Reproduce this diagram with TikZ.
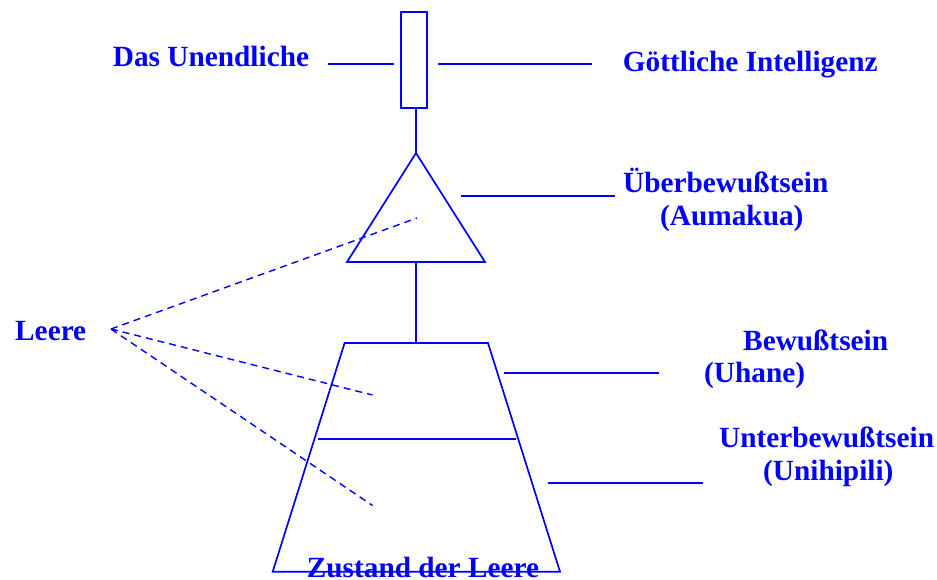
\documentclass[tikz,border=0pt]{standalone}
\usepackage{fontspec}
\setmainfont{Liberation Serif}
\begin{document}
\begin{tikzpicture}[x=1pt,y=-1pt,
  lab/.style={inner sep=0pt,anchor=base west,text=blue,font=\fontsize{29.3}{34}\selectfont\bfseries},
  ln/.style={draw=blue,line width=1.7pt},
  dsh/.style={draw=blue,line width=1.4pt,dash pattern=on 7pt off 5pt}]
\useasboundingbox (0,0) rectangle (937,579);
% texts
\node[lab] (unend) at (112.7,66.7) {Das Unendliche};
\node[lab] (goett) at (622.7,71.7) {Göttliche Intelligenz};
\node[lab] (ueber) at (623,192.7) {Überbewußtsein};
\node[lab] (auma) at (660,225) {(Aumakua)};
\node[lab] (bew) at (743,350) {Bewußtsein};
\node[lab] (uhane) at (704,382) {(Uhane)};
\node[lab] (unter) at (719,447.7) {Unterbewußtsein};
\node[lab] (uni) at (763,480) {(Unihipili)};
\node[lab] (leere) at (15,340) {Leere};
\node[lab] (zust) at (306.7,577) {Zustand der Leere};
% rectangle
\node[draw=blue,line width=1.7pt,inner sep=0pt,minimum width=26.6pt,minimum height=96pt] (rect) at (414,60) {};
% triangle
\coordinate (tA) at (416,153);
\coordinate (tL) at (347,262);
\coordinate (tR) at (485,262);
\coordinate (tB) at (416,262);
\draw[ln,line join=miter] (tA) -- (tL) -- (tR) -- cycle;
% trapezoid
\coordinate (zTL) at (344.6,343);
\coordinate (zTR) at (488,343);
\coordinate (zBR) at (560,571.7);
\coordinate (zBL) at (272.7,571.7);
\coordinate (zT) at (416,343);
\draw[ln,line join=miter] (zTL) -- (zTR) -- (zBR) -- (zBL) -- cycle;
\coordinate (mL) at (318,439);
\coordinate (mR) at (516,439);
\draw[ln] (mL) -- (mR);
% connectors
\draw[ln] (rect.south -| tA) -- (tA);
\draw[ln] (tB) -- (zT);
\coordinate (l1a) at (328,64); \coordinate (l1b) at (394,64);
\coordinate (l2a) at (438,64); \coordinate (l2b) at (592,64);
\draw[ln] (l1a) -- (l1b);
\draw[ln] (l2a) -- (l2b);
\coordinate (l3a) at (461,195.7); \coordinate (l3b) at (615,195.7);
\draw[ln] (l3a) -- (l3b);
\coordinate (l4a) at (504,372.7); \coordinate (l4b) at (659,372.7);
\draw[ln] (l4a) -- (l4b);
\coordinate (l5a) at (548,482.7); \coordinate (l5b) at (703,482.7);
\draw[ln] (l5a) -- (l5b);
% dashed
\coordinate (lo) at (111,329);
\coordinate (d1) at (417,218);
\coordinate (d2) at (372.5,395);
\coordinate (d3) at (372.5,505.5);
\draw[dsh] (lo) -- (d1);
\draw[dsh] (lo) -- (d2);
\draw[dsh] (lo) -- (d3);
\end{tikzpicture}
\end{document}
